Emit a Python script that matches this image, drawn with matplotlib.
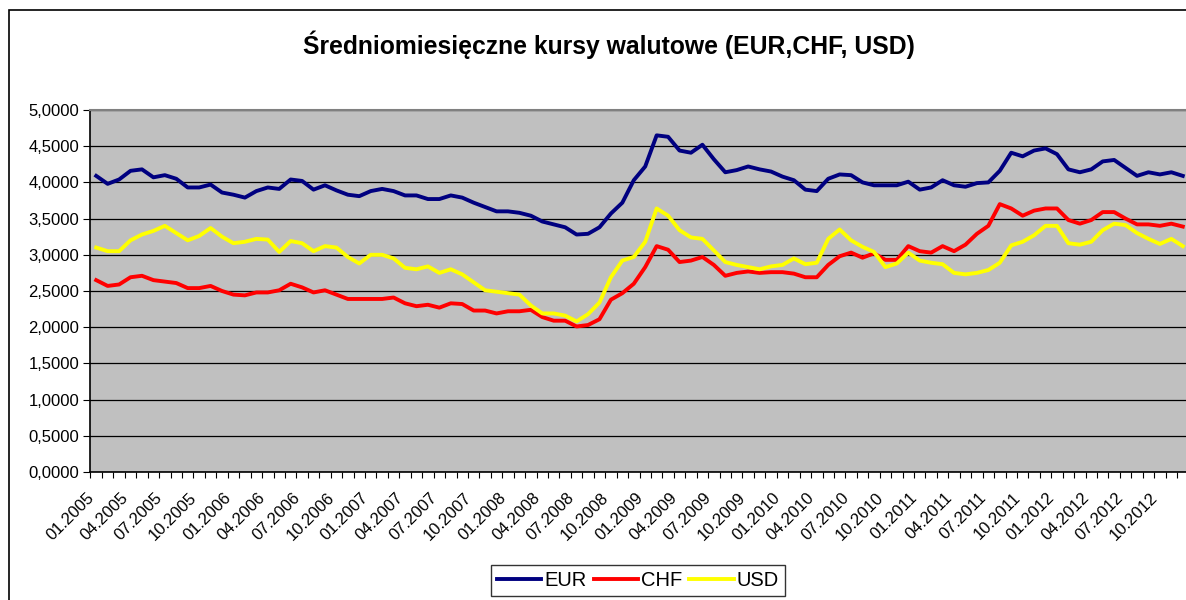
import matplotlib
matplotlib.use("Agg")
import matplotlib.pyplot as plt
from matplotlib.patches import Rectangle
from matplotlib.ticker import FuncFormatter, MultipleLocator
from matplotlib.transforms import ScaledTranslation
import numpy as np

plt.rcParams['font.family'] = ['Liberation Sans', 'DejaVu Sans']

# miesiące 01.2005 - 12.2012
months = [f"{m:02d}.{y}" for y in range(2005, 2013) for m in range(1, 13)]

eur = [4.09, 3.98, 4.04, 4.16, 4.18, 4.07, 4.10, 4.05, 3.93, 3.93, 3.97, 3.86,
       3.83, 3.79, 3.88, 3.93, 3.91, 4.04, 4.02, 3.90, 3.96, 3.89, 3.83, 3.81,
       3.88, 3.91, 3.88, 3.82, 3.82, 3.77, 3.77, 3.82, 3.79, 3.72, 3.66, 3.60,
       3.60, 3.58, 3.54, 3.46, 3.42, 3.38, 3.28, 3.29, 3.38, 3.57, 3.72, 4.03,
       4.22, 4.65, 4.63, 4.44, 4.41, 4.52, 4.32, 4.14, 4.17, 4.22, 4.18, 4.15,
       4.08, 4.03, 3.90, 3.88, 4.05, 4.11, 4.10, 4.00, 3.96, 3.96, 3.96, 4.01,
       3.90, 3.93, 4.03, 3.96, 3.94, 3.99, 4.00, 4.16, 4.41, 4.36, 4.44, 4.47,
       4.39, 4.18, 4.14, 4.18, 4.29, 4.31, 4.20, 4.09, 4.14, 4.11, 4.14, 4.09]

chf = [2.65, 2.57, 2.59, 2.69, 2.71, 2.65, 2.63, 2.61, 2.54, 2.54, 2.57, 2.50,
       2.45, 2.44, 2.48, 2.48, 2.51, 2.60, 2.55, 2.48, 2.51, 2.45, 2.39, 2.39,
       2.39, 2.39, 2.41, 2.33, 2.29, 2.31, 2.27, 2.33, 2.32, 2.23, 2.23, 2.19,
       2.22, 2.22, 2.24, 2.14, 2.09, 2.09, 2.01, 2.03, 2.11, 2.38, 2.47, 2.60,
       2.83, 3.12, 3.07, 2.90, 2.92, 2.97, 2.86, 2.71, 2.75, 2.77, 2.75, 2.76,
       2.76, 2.74, 2.69, 2.69, 2.86, 2.98, 3.03, 2.96, 3.02, 2.93, 2.93, 3.12,
       3.05, 3.03, 3.12, 3.05, 3.14, 3.29, 3.40, 3.70, 3.64, 3.54, 3.61, 3.64,
       3.64, 3.48, 3.43, 3.48, 3.59, 3.59, 3.50, 3.42, 3.42, 3.40, 3.43, 3.39]

usd = [3.10, 3.05, 3.05, 3.20, 3.28, 3.33, 3.40, 3.30, 3.20, 3.26, 3.37, 3.25,
       3.16, 3.18, 3.22, 3.21, 3.04, 3.19, 3.16, 3.05, 3.12, 3.10, 2.97, 2.88,
       3.00, 3.00, 2.95, 2.82, 2.80, 2.84, 2.75, 2.80, 2.73, 2.62, 2.51, 2.49,
       2.47, 2.45, 2.30, 2.19, 2.19, 2.16, 2.08, 2.18, 2.34, 2.69, 2.92, 2.97,
       3.18, 3.64, 3.54, 3.34, 3.24, 3.22, 3.06, 2.90, 2.86, 2.83, 2.80, 2.84,
       2.86, 2.95, 2.87, 2.89, 3.22, 3.35, 3.20, 3.11, 3.04, 2.83, 2.88, 3.03,
       2.92, 2.89, 2.87, 2.75, 2.73, 2.75, 2.79, 2.89, 3.13, 3.18, 3.27, 3.40,
       3.40, 3.16, 3.14, 3.18, 3.34, 3.43, 3.41, 3.30, 3.22, 3.15, 3.22, 3.12]

W, H = 1186, 600
fig = plt.figure(figsize=(W / 100, H / 100), dpi=100)

# ramka wykresu (Excel)
fig.patches.append(Rectangle((9 / W, -0.1), 1.2, 1.1 - 10 / H, transform=fig.transFigure,
                             fill=False, edgecolor='black', linewidth=1.2))

ax = fig.add_axes([90.5 / W, 1 - 472 / H, 1098 / W, 362 / H])
ax.set_facecolor('#C0C0C0')

x = np.arange(len(months))
ax.plot(x, eur, color='#000080', linewidth=2.8, label='EUR')
ax.plot(x, chf, color='#FF0000', linewidth=2.8, label='CHF')
ax.plot(x, usd, color='#FFFF00', linewidth=2.8, label='USD')

ax.set_xlim(-0.5, len(months) - 0.5)
ax.set_ylim(0, 5)
ax.yaxis.set_major_locator(MultipleLocator(0.5))
ax.yaxis.set_major_formatter(FuncFormatter(lambda v, p: f"{v:.4f}".replace('.', ',')))
ax.grid(axis='y', color='black', linewidth=0.9)
ax.set_axisbelow(True)

# podziałki na granicach kategorii, etykiety co 3 miesiące
ax.set_xticks(np.arange(-0.5, len(months), 1), minor=True)
ax.set_xticks(x[::3])
ax.set_xticklabels(months[::3], rotation=45, ha='right', rotation_mode='anchor', fontsize=12)
ax.tick_params(axis='x', which='major', length=0, pad=13)
ax.tick_params(axis='x', which='minor', length=4, width=0.8, direction='out')
ax.tick_params(axis='y', length=5, width=0.8, labelsize=12, pad=3)
shift = ScaledTranslation(-0.10, 0, fig.dpi_scale_trans)
for lab in ax.get_xticklabels():
    lab.set_transform(lab.get_transform() + shift)

for s in ['left', 'bottom']:
    ax.spines[s].set_color('black')
    ax.spines[s].set_linewidth(1.2)
ax.spines['top'].set_color('#808080')
ax.spines['top'].set_linewidth(1.5)
ax.spines['right'].set_visible(False)

fig.text(609 / W, 1 - 45 / H, 'Średniomiesięczne kursy walutowe (EUR,CHF, USD)',
         ha='center', va='center', fontsize=17.8, fontweight='bold')

leg = fig.legend(loc='upper center', bbox_to_anchor=(638 / W, 1 - 565 / H), ncol=3,
                 fontsize=14.5, frameon=True, fancybox=False, edgecolor='black',
                 handlelength=2.2, handletextpad=0.15, columnspacing=0.35,
                 borderpad=0.3, borderaxespad=0)
leg.get_frame().set_linewidth(1.0)

fig.savefig('out.png', dpi=100)
